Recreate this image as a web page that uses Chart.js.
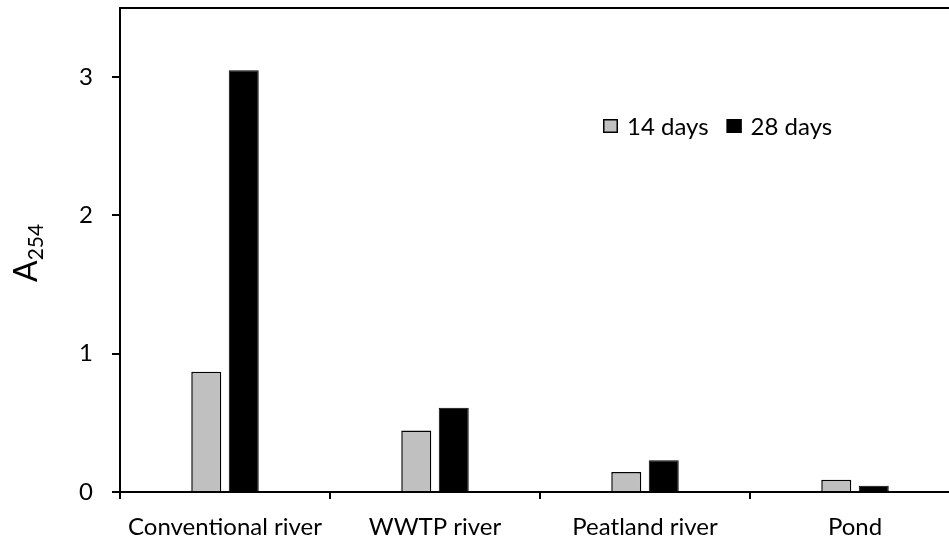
<!DOCTYPE html>
<html>
<head>
<meta charset="utf-8">
<script src="https://cdn.jsdelivr.net/npm/chart.js@4/dist/chart.umd.min.js"></script>
<style>
  html, body { margin: 0; padding: 0; background: #fff; overflow: hidden; }
  #wrap { width: 965px; height: 543px; }
</style>
</head>
<body>
<div id="wrap"><canvas id="barChart" width="965" height="543"></canvas></div>
<script>
/* data */
const categories = ["Conventional river", "WWTP river", "Peatland river", "Pond"];
const days14 = [0.87, 0.445, 0.145, 0.088];
const days28 = [3.05, 0.61, 0.23, 0.046];
const seriesNames = ["14 days", "28 days"];
const yTicks = [0, 1, 2, 3];

const FONT = "Lato, 'Open Sans', sans-serif";

// top frame line + y-axis title with subscript + legend inside the plot
const extras = {
    id: "extras",
    afterDraw(chart) {
        const ctx = chart.ctx;
        const a = chart.chartArea;
        ctx.save();
        ctx.strokeStyle = "#000";
        ctx.lineWidth = 2;
        ctx.beginPath();
        ctx.moveTo(a.left - 1, a.top);
        ctx.lineTo(a.right + 1, a.top);
        ctx.moveTo(a.right, a.top);
        ctx.lineTo(a.right, a.bottom);
        ctx.stroke();

        // y title "A254"
        ctx.translate(37, 282);
        ctx.rotate(-Math.PI / 2);
        ctx.fillStyle = "#000";
        ctx.textBaseline = "alphabetic";
        ctx.font = "32px " + FONT;
        ctx.fillText("A", 0, 0);
        const w = ctx.measureText("A").width;
        ctx.font = "21px " + FONT;
        ctx.fillText("254", w, 6);
        ctx.restore();

        // legend
        ctx.save();
        ctx.font = "24px " + FONT;
        ctx.textBaseline = "middle";
        let x = 603;
        const y = 126;
        chart.data.datasets.forEach((ds) => {
            ctx.fillStyle = ds.backgroundColor;
            ctx.fillRect(x, y - 7, 15, 14);
            ctx.strokeStyle = "#000";
            ctx.lineWidth = 1.5;
            ctx.strokeRect(x + 0.75, y - 6.25, 13.5, 12.5);
            ctx.fillStyle = "#000";
            ctx.fillText(ds.label, x + 24, y + 1);
            x += 24 + ctx.measureText(ds.label).width + 18;
        });
        ctx.restore();
    }
};

new Chart(document.getElementById("barChart"), {
    type: "bar",
    data: {
        labels: categories,
        datasets: [
            {
                label: seriesNames[0],
                data: days14,
                backgroundColor: "#c0c0c0",
                borderColor: "#000",
                borderWidth: 1.5
            },
            {
                label: seriesNames[1],
                data: days28,
                backgroundColor: "#000",
                borderColor: "#000",
                borderWidth: 1
            }
        ]
    },
    options: {
        responsive: false,
        animation: false,
        categoryPercentage: 0.357,
        barPercentage: 0.8,
        layout: { padding: { top: 8, right: 5, left: 0, bottom: 0 } },
        plugins: {
            legend: { display: false },
            tooltip: { enabled: false }
        },
        scales: {
            x: {
                offset: true,
                afterFit: s => { s.height = 51; s.paddingLeft = 0; s.paddingRight = 0; },
                grid: {
                    offset: true,
                    drawOnChartArea: false,
                    drawTicks: true,
                    tickLength: 7,
                    color: "#000",
                    lineWidth: 2
                },
                border: { color: "#000", width: 2 },
                ticks: {
                    color: "#000",
                    padding: 14,
                    font: { family: FONT, size: 24 }
                }
            },
            y: {
                min: 0,
                max: 3.5,
                afterFit: s => { s.width = 120; s.paddingTop = 0; s.paddingBottom = 0; },
                afterBuildTicks: s => { s.ticks = yTicks.map(v => ({ value: v })); },
                grid: {
                    drawOnChartArea: false,
                    drawTicks: true,
                    tickLength: 8,
                    color: "#000",
                    lineWidth: 2
                },
                border: { color: "#000", width: 2 },
                ticks: {
                    color: "#000",
                    padding: 19,
                    font: { family: FONT, size: 24 }
                }
            }
        }
    },
    plugins: [extras]
});
</script>
</body>
</html>
